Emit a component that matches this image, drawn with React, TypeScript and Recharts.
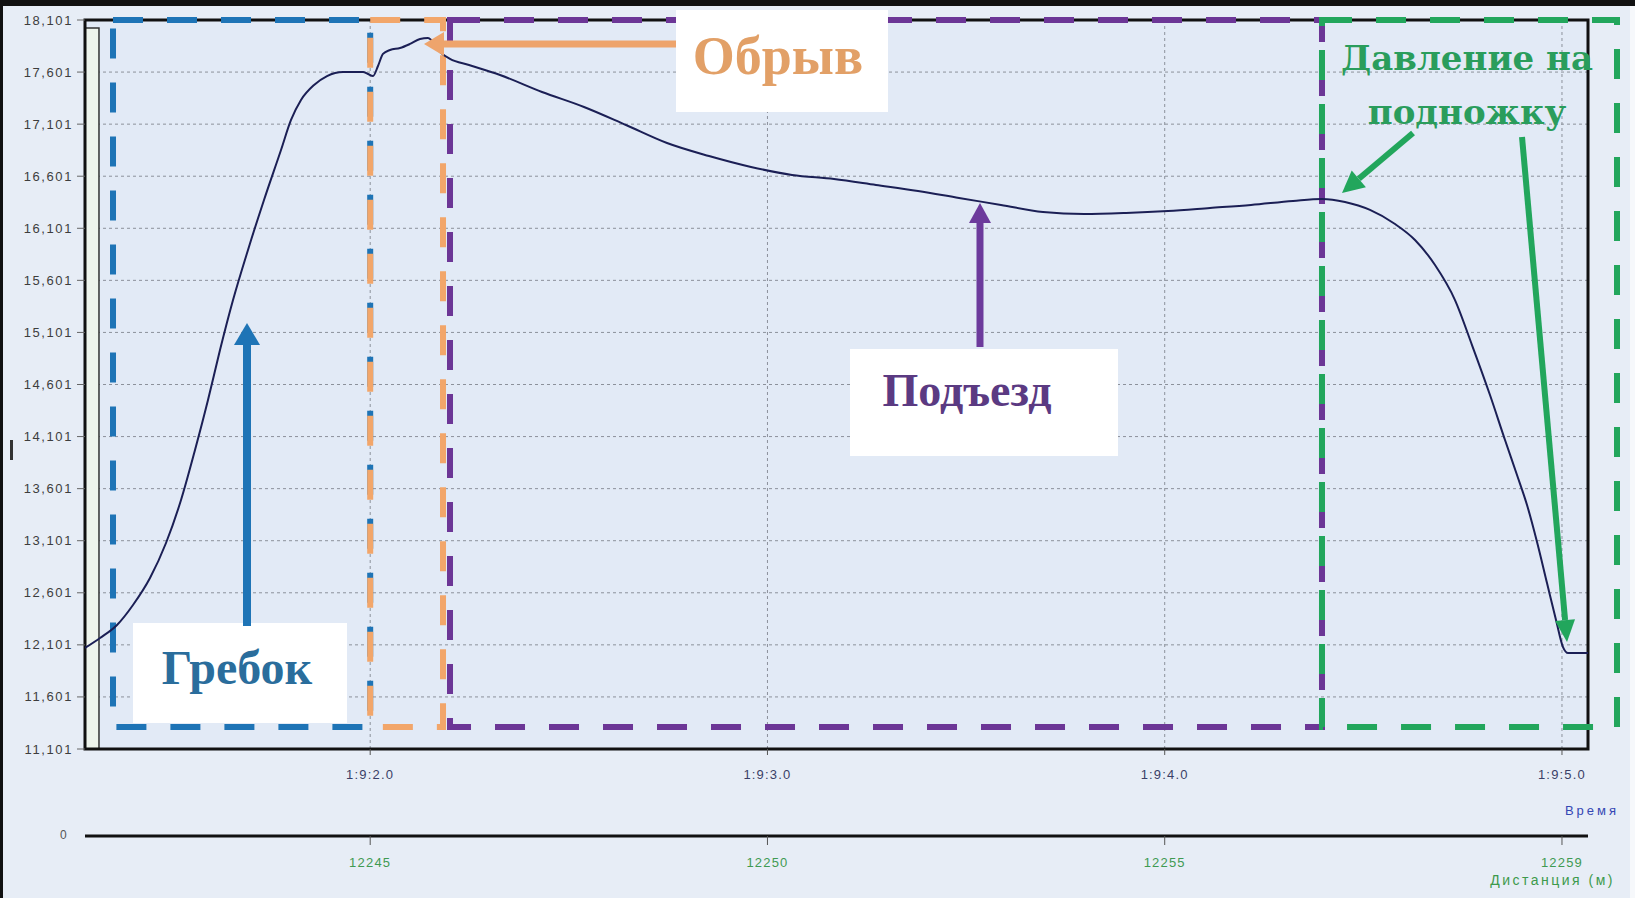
import React from 'react';
import {
  LineChart,
  Line,
  XAxis,
  YAxis,
  CartesianGrid,
  ReferenceArea,
  ReferenceLine,
  ReferenceDot,
} from 'recharts';

// ---- data ----
const timeSec = [
  1.2821, 1.3199, 1.3627, 1.4029, 1.4457, 1.486, 1.5238, 1.559, 1.5917, 1.6219,
  1.6547, 1.6924, 1.7327, 1.7755, 1.8007, 1.8258, 1.8586, 1.8913, 1.9316, 1.9819,
  1.9945, 2.0071, 2.0196, 2.0322, 2.0499, 2.075, 2.1002, 2.1254, 2.1455, 2.1757,
  2.2009, 2.2487, 2.3268, 2.4325, 2.5382, 2.6439, 2.7471, 2.8529, 2.9586, 3.0618,
  3.1675, 3.2732, 3.379, 3.4822, 3.5879, 3.6936, 3.7968, 3.9026, 4.0083, 4.114,
  4.2172, 4.3229, 4.3959, 4.4538, 4.5167, 4.5797, 4.63, 4.6804, 4.7307, 4.7735,
  4.8188, 4.8566, 4.8868, 4.912, 4.9372, 4.9623, 4.985, 5.0026, 5.0152, 5.0655,
];
const speed = [
  12.071, 12.167, 12.292, 12.484, 12.743, 13.079, 13.492, 13.972, 14.452, 14.932,
  15.412, 15.893, 16.373, 16.853, 17.141, 17.333, 17.477, 17.563, 17.602, 17.602,
  17.582, 17.563, 17.659, 17.775, 17.813, 17.832, 17.871, 17.919, 17.928, 17.794,
  17.727, 17.669, 17.573, 17.41, 17.266, 17.093, 16.92, 16.795, 16.69, 16.613,
  16.574, 16.517, 16.459, 16.392, 16.325, 16.257, 16.238, 16.248, 16.267, 16.296,
  16.325, 16.363, 16.382, 16.353, 16.277, 16.142, 15.989, 15.748, 15.412, 14.98,
  14.5, 14.068, 13.732, 13.444, 13.089, 12.695, 12.34, 12.08, 12.023, 12.023,
];
const yTicks = [
  11.101, 11.601, 12.101, 12.601, 13.101, 13.601, 14.101, 14.601,
  15.101, 15.601, 16.101, 16.601, 17.101, 17.601, 18.101,
];
const yTickLabels = [
  '11,101', '11,601', '12,101', '12,601', '13,101', '13,601', '14,101', '14,601',
  '15,101', '15,601', '16,101', '16,601', '17,101', '17,601', '18,101',
];
const timeTicks = [2, 3, 4, 5];
const timeTickLabels = ['1:9:2.0', '1:9:3.0', '1:9:4.0', '1:9:5.0'];
const distTickLabels = ['12245', '12250', '12255', '12259'];

const X_MIN = 1.2821;
const X_MAX = 5.0655;
const Y_MIN = 11.101;
const Y_MAX = 18.101;

const data = timeSec.map((t, i) => ({ t, v: speed[i] }));

// ---- annotation geometry (in data units: seconds / speed) ----
const phases = [
  { key: 'stroke', x1: 1.3526, x2: 2.0, color: '#1e74b6' },
  { key: 'break', x1: 2.0, x2: 2.1833, color: '#f2a66a' },
  { key: 'approach', x1: 2.2009, x2: 4.3959, color: '#6c3696' },
  { key: 'press', x1: 4.3959, x2: 5.1385, color: '#22a65c' },
];
const PHASE_BOTTOM = 11.312;
const PHASE_TOP = 18.101;

const boxes = [
  { key: 'b1', x1: 1.4029, x2: 1.9416, y1: 11.351, y2: 12.311 },
  { key: 'b2', x1: 2.7698, x2: 3.3034, y1: 17.218, y2: 18.197 },
  { key: 'b3', x1: 3.2078, x2: 3.8824, y1: 13.914, y2: 14.942 },
];

const arrows = [
  { key: 'a1', from: { x: 1.6899, y: 12.282 }, to: { x: 1.6899, y: 15.192 }, color: '#1e74b6', w: 8, hw: 26, hl: 22 },
  { key: 'a2', from: { x: 3.535, y: 14.961 }, to: { x: 3.535, y: 16.344 }, color: '#6c3a9c', w: 7, hw: 22, hl: 20 },
  { key: 'a3', from: { x: 2.7698, y: 17.871 }, to: { x: 2.1354, y: 17.871 }, color: '#eea46c', w: 7, hw: 24, hl: 20 },
  { key: 'a4', from: { x: 4.625, y: 17.016 }, to: { x: 4.4463, y: 16.44 }, color: '#22a65c', w: 6, hw: 22, hl: 22 },
  { key: 'a5', from: { x: 4.8994, y: 16.978 }, to: { x: 5.0127, y: 12.128 }, color: '#22a65c', w: 6, hw: 20, hl: 22 },
];

const texts = [
  { key: 't1', x: 1.6647, y: 11.879, text: 'Гребок', color: '#2a6d9c', size: 48, font: '"Liberation Serif", serif' },
  { key: 't2', x: 3.0265, y: 17.755, text: 'Обрыв', color: '#e2a067', size: 54, font: '"Liberation Serif", serif' },
  { key: 't3', x: 3.5023, y: 14.548, text: 'Подъезд', color: '#5b3a82', size: 46, font: '"Liberation Serif", serif' },
  { key: 't4', x: 4.7609, y: 17.736, text: 'Давление на', color: '#2a9d5c', size: 34, font: '"DejaVu Serif", serif' },
  { key: 't5', x: 4.7609, y: 17.218, text: 'подножку', color: '#2a9d5c', size: 34, font: '"DejaVu Serif", serif' },
];

const Arrow = (p: any) => {
  const { x1, y1, x2, y2, color, w, hw, hl } = p;
  if ([x1, y1, x2, y2].some((n) => typeof n !== 'number' || isNaN(n))) return null;
  const ang = Math.atan2(y2 - y1, x2 - x1);
  const bx = x2 - hl * Math.cos(ang);
  const by = y2 - hl * Math.sin(ang);
  const px = (-Math.sin(ang) * hw) / 2;
  const py = (Math.cos(ang) * hw) / 2;
  return (
    <g>
      <line x1={x1} y1={y1} x2={bx} y2={by} stroke={color} strokeWidth={w} />
      <polygon points={`${x2},${y2} ${bx + px},${by + py} ${bx - px},${by - py}`} fill={color} />
    </g>
  );
};

const YTick = (p: any) => {
  const { x, y, payload } = p;
  const i = yTicks.indexOf(payload.value);
  return (
    <text x={x} y={y} dy={4.5} textAnchor="end" fontSize={13} fill="#3d3d3d"
      fontFamily='"Liberation Sans", Arial, sans-serif' letterSpacing={1.6}>
      {i >= 0 ? yTickLabels[i] : ''}
    </text>
  );
};

const TimeTick = (p: any) => {
  const { x, y, payload } = p;
  const i = timeTicks.indexOf(payload.value);
  return (
    <text x={x} y={y} dy={10} textAnchor="middle" fontSize={13} fill="#3a3f66"
      fontFamily='"Liberation Sans", Arial, sans-serif' letterSpacing={1.2}>
      {i >= 0 ? timeTickLabels[i] : ''}
    </text>
  );
};

const DistTick = (p: any) => {
  const { x, y, payload } = p;
  const i = timeTicks.indexOf(payload.value);
  return (
    <text x={x} y={y} dy={10} textAnchor="middle" fontSize={13} fill="#3f9a52"
      fontFamily='"Liberation Sans", Arial, sans-serif' letterSpacing={1.2}>
      {i >= 0 ? distTickLabels[i] : ''}
    </text>
  );
};

export default function App() {
  return (
    <div style={{ position: 'absolute', left: 0, top: 0, width: 1635, height: 898, background: '#e7edf6', overflow: 'hidden' }}>
      <LineChart width={1635} height={898} data={data} margin={{ top: 20, right: 47, bottom: 0, left: 0 }}>
        <CartesianGrid stroke="#8c919b" strokeDasharray="3 3" fill="#e2eaf6" />
        <XAxis
          dataKey="t" type="number" domain={[X_MIN, X_MAX]} ticks={timeTicks} allowDataOverflow
          height={87} axisLine={false} tickLine={{ stroke: '#555' }} tickSize={6} tickMargin={14}
          tick={<TimeTick />} interval={0}
        />
        <XAxis
          xAxisId="dist" dataKey="t" type="number" domain={[X_MIN, X_MAX]} ticks={timeTicks} allowDataOverflow
          height={62} axisLine={{ stroke: '#111', strokeWidth: 3 }} tickLine={{ stroke: '#555' }} tickSize={9}
          tickMargin={12} tick={<DistTick />} interval={0}
        />
        <YAxis
          type="number" domain={[Y_MIN, Y_MAX]} ticks={yTicks} width={85} axisLine={false}
          tickLine={{ stroke: '#666' }} tickSize={8} tickMargin={4} tick={<YTick />} interval={0}
          allowDataOverflow
        />
        <ReferenceArea x1={X_MIN} x2={1.3173} y1={Y_MIN} y2={18.024} fill="#eef4ec" fillOpacity={1}
          stroke="#333" strokeWidth={1.5} ifOverflow="visible" />
        <ReferenceArea x1={X_MIN} x2={X_MAX} y1={Y_MIN} y2={Y_MAX} fill="none" stroke="#111"
          strokeWidth={3} ifOverflow="visible" />
        <Line type="monotone" dataKey="v" stroke="#1b1f55" strokeWidth={2} dot={false} isAnimationActive={false} />
        {phases.map((ph) => (
          <ReferenceArea key={ph.key} x1={ph.x1} x2={ph.x2} y1={PHASE_BOTTOM} y2={PHASE_TOP} fill="none"
            stroke={ph.color} strokeWidth={6} strokeDasharray="30 24" ifOverflow="visible" />
        ))}
        {boxes.map((b) => (
          <ReferenceArea key={b.key} x1={b.x1} x2={b.x2} y1={b.y1} y2={b.y2} fill="#ffffff" fillOpacity={1}
            stroke="none" ifOverflow="visible" />
        ))}
        {arrows.map((a) => (
          <ReferenceLine key={a.key} segment={[a.from, a.to]} stroke={a.color} strokeWidth={a.w} ifOverflow="visible"
            shape={(p: any) => <Arrow {...p} color={a.color} w={a.w} hw={a.hw} hl={a.hl} />} />
        ))}
        {texts.map((t) => (
          <ReferenceDot key={t.key} x={t.x} y={t.y} r={0} ifOverflow="visible"
            shape={(p: any) => (
              <text x={p.cx} y={p.cy} textAnchor="middle" dominantBaseline="central" fontSize={t.size}
                fontFamily={t.font} fontWeight="bold" fill={t.color}>
                {t.text}
              </text>
            )} />
        ))}
      </LineChart>
      {/* axis titles and frame of the screenshot */}
      <div style={{ position: 'absolute', right: 16, top: 803, fontSize: 13, color: '#3548b4', fontFamily: '"Liberation Sans", Arial, sans-serif', letterSpacing: 3 }}>Время</div>
      <div style={{ position: 'absolute', right: 20, top: 872, fontSize: 14, color: '#3d9a4c', fontFamily: '"Liberation Sans", Arial, sans-serif', letterSpacing: 2.5 }}>Дистанция (м)</div>
      <div style={{ position: 'absolute', left: 60, top: 828, fontSize: 12, color: '#555', fontFamily: '"Liberation Sans", Arial, sans-serif' }}>0</div>
      <div style={{ position: 'absolute', left: 0, top: 0, width: 1635, height: 6, background: '#111' }} />
      <div style={{ position: 'absolute', left: 0, top: 0, width: 3, height: 898, background: '#111' }} />
      <div style={{ position: 'absolute', right: 0, top: 6, width: 5, height: 892, background: '#f6f8fb' }} />
      <div style={{ position: 'absolute', left: 10, top: 440, width: 3, height: 20, background: '#333' }} />
    </div>
  );
}
